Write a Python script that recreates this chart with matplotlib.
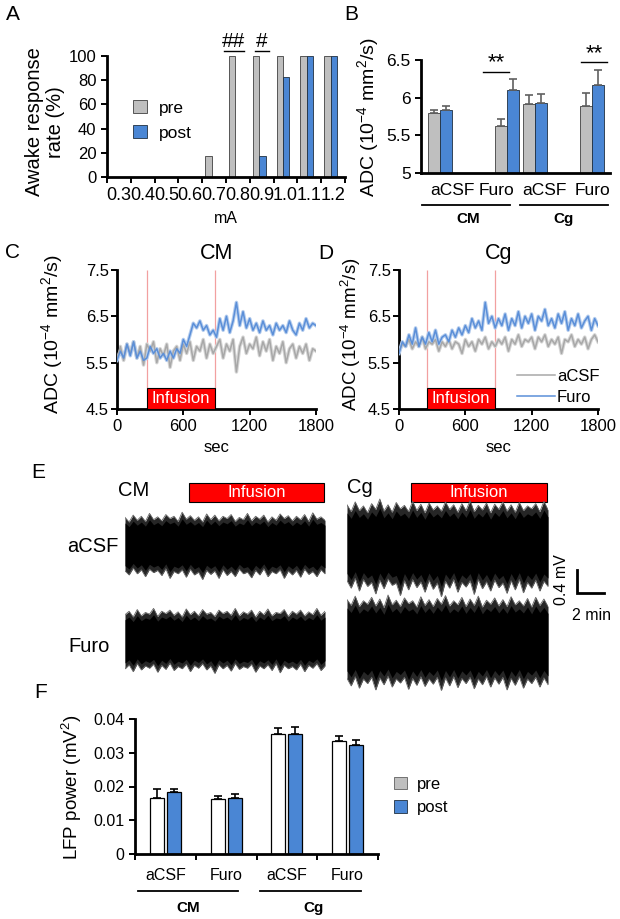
import numpy as np
import matplotlib
matplotlib.use("Agg")
import matplotlib.pyplot as plt
from matplotlib.patches import Rectangle
from matplotlib.lines import Line2D

plt.rcParams['font.family'] = ['Liberation Sans', 'DejaVu Sans']
plt.rcParams['mathtext.fontset'] = 'custom'
plt.rcParams['mathtext.rm'] = 'Liberation Sans'
plt.rcParams['mathtext.it'] = 'Liberation Sans:italic'
plt.rcParams['mathtext.bf'] = 'Liberation Sans:bold'

# ---------------- data ----------------
# Panel A
a_currents = ['0.3', '0.4', '0.5', '0.6', '0.7', '0.8', '0.9', '1.0', '1.1', '1.2']
a_pre = [0, 0, 0, 0, 17, 100, 100, 100, 100, 100]
a_post = [0, 0, 0, 0, 0, 0, 17, 83, 100, 100]

# Panel B
b_groups = ['aCSF', 'Furo', 'aCSF', 'Furo']
b_regions = ['CM', 'Cg']
b_pre = [5.79, 5.62, 5.92, 5.89]
b_pre_err = [0.05, 0.10, 0.11, 0.17]
b_post = [5.84, 6.10, 5.93, 6.17]
b_post_err = [0.05, 0.15, 0.12, 0.20]

# Panels C / D (ADC time courses, every 30 s)
t_sec = list(range(0, 1801, 30))
c_acsf = [5.60, 5.85, 5.55, 5.90, 5.70, 5.95, 5.60, 5.85, 5.45, 5.90, 5.75, 5.95, 5.50, 5.80, 5.65, 5.90, 5.40, 5.75, 5.85, 5.55, 5.90,
          5.70, 5.95, 5.55, 5.85, 5.75, 6.00, 5.60, 5.90, 5.70, 5.85,
          6.00, 5.60, 5.90, 5.75, 6.00, 5.30, 5.85, 6.05, 5.70, 5.90,
          5.80, 6.05, 5.65, 5.95, 5.75, 6.00, 5.55, 5.85, 5.70, 5.95,
          5.50, 5.80, 5.90, 5.60, 5.85, 5.70, 5.90, 5.55, 5.80, 5.75]
c_furo = [5.55, 5.75, 5.60, 5.90, 5.65, 5.95, 5.60, 5.75, 5.55, 5.60, 5.85, 5.70, 5.80, 5.60, 5.70, 5.55, 5.75, 5.60, 5.80, 5.70, 6.00,
          5.85, 6.10, 6.35, 6.25, 6.40, 6.20, 6.30, 6.10, 6.20, 6.05,
          6.45, 6.20, 6.50, 6.15, 6.40, 6.80, 6.30, 6.60, 6.25, 6.45,
          6.20, 6.35, 6.15, 6.40, 6.20, 6.30, 6.10, 6.35, 6.20, 6.30,
          6.15, 6.40, 6.20, 6.10, 6.35, 6.20, 6.45, 6.25, 6.35, 6.30]
d_acsf = [5.75, 5.90, 5.85, 6.00, 5.80, 5.95, 5.85, 6.05, 5.80, 5.95, 5.90, 6.00, 5.75, 5.95, 5.85, 6.00, 5.80, 5.95, 5.90, 5.70, 6.00,
          5.85, 5.95, 5.75, 6.00, 5.90, 6.05, 5.80, 5.95, 5.85, 6.00,
          5.90, 6.05, 5.75, 6.00, 5.90, 6.10, 5.85, 6.00, 5.95, 6.05,
          5.80, 6.05, 5.95, 6.10, 5.85, 6.00, 5.90, 6.05, 5.70, 6.00,
          5.95, 6.10, 5.85, 6.00, 5.90, 6.05, 5.80, 6.00, 6.10, 5.95]
d_furo = [5.70, 5.95, 5.85, 6.10, 5.90, 6.25, 5.85, 6.05, 5.90, 6.15, 5.95, 6.20, 5.90, 6.05, 6.10, 5.95, 6.20, 6.05, 6.25, 6.10, 6.30,
          6.15, 6.45, 6.25, 6.40, 6.20, 6.80, 6.35, 6.50, 6.25, 6.45,
          6.30, 6.55, 6.20, 6.45, 6.30, 6.60, 6.25, 6.50, 6.35, 6.55,
          6.20, 6.50, 6.40, 6.65, 6.30, 6.45, 6.25, 6.55, 6.35, 6.60,
          6.20, 6.45, 6.30, 6.55, 6.25, 6.40, 6.50, 6.20, 6.45, 6.30]
c_infusion = (275, 885)
d_infusion = (255, 870)

# Panel E (LFP trace envelopes, mV, 50 samples over 15 min)
e_cm_acsf_up = [0.48, 0.40, 0.52, 0.43, 0.50, 0.41, 0.55, 0.44, 0.49, 0.42, 0.53, 0.46, 0.50, 0.41, 0.57, 0.45, 0.51, 0.43, 0.49, 0.40,
                0.54, 0.44, 0.52, 0.42, 0.50, 0.46, 0.53, 0.41, 0.48, 0.44, 0.55, 0.42, 0.50, 0.45, 0.52, 0.40, 0.49, 0.43, 0.54, 0.46,
                0.51, 0.42, 0.50, 0.44, 0.53, 0.41, 0.56, 0.45, 0.49, 0.43]
e_cm_acsf_lo = [-0.45, -0.52, -0.40, -0.50, -0.43, -0.55, -0.42, -0.48, -0.44, -0.53, -0.41, -0.58, -0.46, -0.50, -0.43, -0.56, -0.42, -0.52, -0.47, -0.60,
                -0.44, -0.51, -0.45, -0.58, -0.43, -0.53, -0.46, -0.55, -0.42, -0.50, -0.47, -0.57, -0.44, -0.52, -0.41, -0.55, -0.46, -0.50, -0.43, -0.58,
                -0.45, -0.52, -0.44, -0.56, -0.42, -0.51, -0.46, -0.55, -0.43, -0.50]
e_cm_furo_up = [0.44, 0.50, 0.40, 0.53, 0.42, 0.48, 0.45, 0.55, 0.41, 0.50, 0.46, 0.52, 0.43, 0.49, 0.40, 0.54, 0.44, 0.50, 0.42, 0.53,
                0.45, 0.48, 0.41, 0.52, 0.46, 0.50, 0.43, 0.55, 0.42, 0.49, 0.45, 0.52, 0.40, 0.50, 0.44, 0.54, 0.42, 0.48, 0.46, 0.53,
                0.41, 0.50, 0.45, 0.52, 0.42, 0.49, 0.44, 0.55, 0.43, 0.50]
e_cm_furo_lo = [-0.50, -0.43, -0.55, -0.41, -0.52, -0.45, -0.49, -0.42, -0.56, -0.44, -0.51, -0.40, -0.53, -0.46, -0.50, -0.42, -0.55, -0.44, -0.49, -0.41,
                -0.52, -0.45, -0.58, -0.43, -0.50, -0.44, -0.54, -0.41, -0.51, -0.46, -0.49, -0.42, -0.56, -0.45, -0.50, -0.43, -0.53, -0.41, -0.57, -0.44,
                -0.50, -0.46, -0.52, -0.42, -0.55, -0.44, -0.49, -0.41, -0.53, -0.45]
e_cg_acsf_up = [0.70, 0.58, 0.75, 0.60, 0.68, 0.56, 0.72, 0.62, 0.80, 0.59, 0.70, 0.57, 0.74, 0.63, 0.69, 0.58, 0.76, 0.60, 0.71, 0.56,
                0.73, 0.61, 0.68, 0.59, 0.75, 0.62, 0.70, 0.57, 0.72, 0.60, 0.77, 0.58, 0.69, 0.61, 0.73, 0.56, 0.71, 0.62, 0.75, 0.59,
                0.70, 0.57, 0.74, 0.60, 0.68, 0.63, 0.72, 0.58, 0.76, 0.61]
e_cg_acsf_lo = [-0.62, -0.75, -0.58, -0.80, -0.60, -0.72, -0.65, -0.85, -0.61, -0.76, -0.59, -0.70, -0.66, -0.88, -0.62, -0.78, -0.60, -0.74, -0.64, -0.82,
                -0.61, -0.77, -0.66, -0.90, -0.63, -0.75, -0.60, -0.82, -0.65, -0.73, -0.62, -0.86, -0.60, -0.76, -0.64, -0.80, -0.61, -0.74, -0.66, -0.84,
                -0.62, -0.78, -0.60, -0.83, -0.65, -0.75, -0.61, -0.80, -0.63, -0.72]
e_cg_furo_up = [0.72, 0.62, 0.78, 0.60, 0.70, 0.64, 0.76, 0.61, 0.73, 0.58, 0.80, 0.63, 0.71, 0.60, 0.75, 0.65, 0.70, 0.59, 0.77, 0.62,
                0.72, 0.60, 0.74, 0.64, 0.79, 0.61, 0.70, 0.63, 0.76, 0.60, 0.73, 0.62, 0.78, 0.59, 0.71, 0.64, 0.75, 0.61, 0.72, 0.60,
                0.77, 0.63, 0.70, 0.61, 0.74, 0.59, 0.76, 0.62, 0.73, 0.60]
e_cg_furo_lo = [-0.65, -0.78, -0.62, -0.82, -0.66, -0.74, -0.63, -0.85, -0.64, -0.76, -0.61, -0.80, -0.66, -0.73, -0.63, -0.84, -0.65, -0.77, -0.62, -0.79,
                -0.66, -0.75, -0.63, -0.86, -0.64, -0.78, -0.62, -0.81, -0.65, -0.74, -0.63, -0.83, -0.66, -0.76, -0.62, -0.80, -0.64, -0.75, -0.63, -0.85,
                -0.65, -0.77, -0.62, -0.82, -0.66, -0.74, -0.63, -0.80, -0.64, -0.76]
e_infusion_min = (4.8, 14.9)

# Panel F
f_groups = ['aCSF', 'Furo', 'aCSF', 'Furo']
f_pre = [0.0165, 0.0164, 0.0356, 0.0334]
f_pre_err = [0.0027, 0.0008, 0.0017, 0.0015]
f_post = [0.0184, 0.0167, 0.0356, 0.0322]
f_post_err = [0.0010, 0.0010, 0.0020, 0.0016]

# ---------------- style ----------------
GRAY = '#bfbfbf'
BLUE = '#4a86d4'
LINE_BLUE = '#5b8fd8'
LIGHT_BLUE = '#b5cdee'
LINE_GRAY = '#a8a8a8'
LIGHT_GRAY = '#d6d6d6'
RED = '#ff0000'
PINK = '#f2a0a0'

W, H = 620, 919
fig = plt.figure(figsize=(W / 100, H / 100), dpi=100)


def add_ax(l, t, r, b):
    return fig.add_axes([l / W, 1 - b / H, (r - l) / W, (b - t) / H])


def ftext(x, y, s, **kw):
    return fig.text(x / W, 1 - y / H, s, **kw)


def fline(x0, x1, y, lw=1.3):
    fig.add_artist(Line2D([x0 / W, x1 / W], [1 - y / H, 1 - y / H], color='black', lw=lw,
                          transform=fig.transFigure))


def style_axis(ax, lw=2.0):
    for s in ['top', 'right']:
        ax.spines[s].set_visible(False)
    for s in ['left', 'bottom']:
        ax.spines[s].set_linewidth(lw)
    ax.tick_params(width=lw * 0.7, length=4, direction='out')


# panel letters
for lab, x, y in [('A', 13, 15), ('B', 351, 15), ('C', 12, 252), ('D', 326, 253), ('E', 38, 472), ('F', 41, 692)]:
    ftext(x, y, lab, fontsize=15, ha='center', va='center')

# ---------------- Panel A ----------------
axA = add_ax(107, 56, 345, 177)
style_axis(axA)
xa = np.arange(len(a_currents))
axA.bar(xa - 0.24, a_pre, width=0.27, color=GRAY, edgecolor='#404040', lw=0.6, label='pre')
axA.bar(xa + 0.03, a_post, width=0.27, color=BLUE, edgecolor='#203040', lw=0.6, label='post')
axA.set_xlim(-0.5, len(a_currents) - 0.5)
axA.set_ylim(0, 100)
axA.set_yticks([0, 20, 40, 60, 80, 100])
axA.set_xticks(np.arange(len(a_currents) + 1) - 0.5)
axA.set_xticklabels([])
axA.set_xticks(xa, minor=True)
axA.set_xticklabels(a_currents, minor=True)
axA.tick_params(axis='x', which='minor', length=0, pad=7, labelsize=13)
axA.tick_params(axis='y', labelsize=12)
axA.set_xlabel('mA', fontsize=11.5, labelpad=5)
for xc, s, hw in [(5 - 0.17, '##', 0.42), (6.0, '#', 0.3)]:
    axA.text(xc, 112, s, ha='center', va='center', fontsize=15, clip_on=False)
    axA.plot([xc - hw, xc + hw], [104, 104], color='black', lw=1.0, clip_on=False)
ftext(45, 122, 'Awake response\nrate (%)', rotation=90, ha='center', va='center', fontsize=14.5,
      multialignment='center', linespacing=1.1)
fig.legend(handles=axA.get_legend_handles_labels()[0], labels=['pre', 'post'],
           loc='upper left', bbox_to_anchor=(126 / W, 1 - 93 / H), frameon=False, fontsize=12.5,
           handlelength=0.8, handleheight=0.8, handletextpad=0.7, labelspacing=0.55, borderaxespad=0)

# ---------------- Panel B ----------------
axB = add_ax(421, 60, 610, 173)
style_axis(axB)
b_pos = np.array([0.40, 1.82, 2.41, 3.62])
b_lab_pos = [0.66, 1.60, 2.62, 3.62]
bw = 0.254
axB.bar(b_pos - bw / 2, b_pre, width=bw, color=GRAY, edgecolor='#404040', lw=0.6)
axB.bar(b_pos + bw / 2, b_post, width=bw, color=BLUE, edgecolor='#203040', lw=0.6)
axB.errorbar(b_pos - bw / 2, b_pre, yerr=[np.zeros(4), b_pre_err], fmt='none', ecolor='#606060', capsize=3, lw=1.2, capthick=1.2)
axB.errorbar(b_pos + bw / 2, b_post, yerr=[np.zeros(4), b_post_err], fmt='none', ecolor='#606060', capsize=3, lw=1.2, capthick=1.2)
axB.set_xlim(0, 4)
axB.set_ylim(5, 6.5)
axB.set_yticks([5, 5.5, 6, 6.5])
axB.set_yticklabels(['5', '5.5', '6', '6.5'])
axB.tick_params(axis='y', labelsize=12.5)
axB.set_xticks(b_lab_pos)
axB.set_xticklabels(b_groups, fontsize=12.5)
axB.tick_params(axis='x', length=0, pad=7)
for xc, yt, yl in [(1.59, 6.46, 6.34), (3.66, 6.59, 6.47)]:
    axB.text(xc, yt, '**', ha='center', va='center', fontsize=16, clip_on=False)
    axB.plot([xc - 0.28, xc + 0.28], [yl, yl], color='black', lw=1.0, clip_on=False)
ftext(368, 117, 'ADC (10$^{-4}$ mm$^{2}$/s)', rotation=90, ha='center', va='center', fontsize=14)
fline(422, 510, 205)
fline(520, 608, 205)
ftext(468, 219, b_regions[0], ha='center', va='center', fontsize=11, fontweight='bold')
ftext(564, 219, b_regions[1], ha='center', va='center', fontsize=11, fontweight='bold')


# ---------------- Panels C / D ----------------
def adc_panel(ax, acsf, furo, inf, title, legend=False):
    style_axis(ax)
    ax.plot(t_sec, acsf, color=LIGHT_GRAY, lw=2.6, zorder=2)
    ax.plot(t_sec, furo, color=LIGHT_BLUE, lw=2.6, zorder=3)
    la, = ax.plot(t_sec, acsf, color=LINE_GRAY, lw=1.1, zorder=4, label='aCSF')
    lf, = ax.plot(t_sec, furo, color=LINE_BLUE, lw=1.1, zorder=5, label='Furo')
    ax.set_xlim(0, 1800)
    ax.set_ylim(4.5, 7.5)
    ax.set_xticks([0, 600, 1200, 1800])
    ax.set_yticks([4.5, 5.5, 6.5, 7.5])
    ax.tick_params(labelsize=12)
    ax.tick_params(axis='y', pad=2)
    ax.set_xlabel('sec', fontsize=12, labelpad=4)
    ax.vlines(list(inf), 4.95, 7.5, color=PINK, lw=0.9, zorder=1)
    ax.add_patch(Rectangle((inf[0], 4.5), inf[1] - inf[0], 0.45, facecolor=RED, edgecolor='black', lw=0.8, zorder=6))
    ax.text((inf[0] + inf[1]) / 2, 4.73, 'Infusion', color='white', ha='center', va='center', fontsize=12, zorder=7)
    ax.set_title(title, fontsize=15.5, pad=8)
    if legend:
        ax.legend(handles=[la, lf], loc='lower right', bbox_to_anchor=(1.04, -0.02), frameon=False,
                  fontsize=12, handlelength=2.3, handletextpad=0.1, labelspacing=0.35, borderaxespad=0)


axC = add_ax(117, 270, 316, 409)
adc_panel(axC, c_acsf, c_furo, c_infusion, 'CM')
ftext(52, 334, 'ADC (10$^{-4}$ mm$^{2}$/s)', rotation=90, ha='center', va='center', fontsize=14)
axD = add_ax(399, 270, 598, 409)
adc_panel(axD, d_acsf, d_furo, d_infusion, 'Cg', legend=True)
ftext(351, 334, 'ADC (10$^{-4}$ mm$^{2}$/s)', rotation=90, ha='center', va='center', fontsize=13.5)

# ---------------- Panel E ----------------
e_t = np.linspace(0, 15, len(e_cm_acsf_up))
MV_PX = 57.5  # pixels per mV
HALF = 0.9


def trace_ax(x0, x1, yc, up, lo, infusion=False):
    ax = add_ax(x0, yc - HALF * MV_PX, x1, yc + HALF * MV_PX)
    ax.set_xlim(0, 15)
    ax.set_ylim(-HALF, HALF)
    ax.axis('off')
    up = np.array(up)
    lo = np.array(lo)
    ax.fill_between(e_t, lo, up, color='#262626', lw=0)
    ax.fill_between(e_t, lo * 0.8, up * 0.8, color='black', lw=0)
    ax.plot(e_t, up, color='#666666', lw=0.6)
    ax.plot(e_t, lo, color='#666666', lw=0.6)
    if infusion:
        top = (yc - 483) / MV_PX
        bot = (yc - 502) / MV_PX
        ax.add_patch(Rectangle((e_infusion_min[0], bot), e_infusion_min[1] - e_infusion_min[0], top - bot,
                               facecolor=RED, edgecolor='black', lw=0.8, clip_on=False))
        ax.text(sum(e_infusion_min) / 2, (top + bot) / 2, 'Infusion', color='white', ha='center', va='center',
                fontsize=12, clip_on=False)
    return ax


trace_ax(125, 325, 545, e_cm_acsf_up, e_cm_acsf_lo, infusion=True)
trace_ax(125, 325, 640, e_cm_furo_up, e_cm_furo_lo)
trace_ax(347, 548, 545, e_cg_acsf_up, e_cg_acsf_lo, infusion=True)
trace_ax(347, 548, 641, e_cg_furo_up, e_cg_furo_lo)
ftext(118, 490, 'CM', ha='left', va='center', fontsize=14.5)
ftext(347, 488, 'Cg', ha='left', va='center', fontsize=14.5)
ftext(67, 546, 'aCSF', ha='left', va='center', fontsize=14.5)
ftext(68, 647, 'Furo', ha='left', va='center', fontsize=14.5)
# scale bar
axS = add_ax(577, 570, 577 + 2 * 200 / 15, 570 + 0.4 * MV_PX)
axS.set_xlim(0, 2)
axS.set_ylim(0, 0.4)
axS.axis('off')
axS.plot([0, 0, 2], [0.4, 0, 0], color='black', lw=2, clip_on=False, solid_joinstyle='miter')
ftext(562, 580, '0.4 mV', rotation=90, ha='center', va='center', fontsize=11.5)
ftext(592, 615, '2 min', ha='center', va='center', fontsize=11.5)

# ---------------- Panel F ----------------
axF = add_ax(135, 719, 378, 854)
style_axis(axF)
xf = np.arange(4)
fw = 0.23
axF.bar(xf - 0.14, f_pre, width=fw, color='white', edgecolor='black', lw=0.9, label='pre')
axF.bar(xf + 0.14, f_post, width=fw, color=BLUE, edgecolor='black', lw=0.9, label='post')
axF.errorbar(xf - 0.14, f_pre, yerr=[np.zeros(4), f_pre_err], fmt='none', ecolor='black', capsize=3, lw=1.2, capthick=1.2)
axF.errorbar(xf + 0.14, f_post, yerr=[np.zeros(4), f_post_err], fmt='none', ecolor='black', capsize=3, lw=1.2, capthick=1.2)
axF.set_xlim(-0.5, 3.5)
axF.set_ylim(0, 0.04)
axF.set_yticks([0, 0.01, 0.02, 0.03, 0.04])
axF.set_yticklabels(['0', '0.01', '0.02', '0.03', '0.04'])
axF.set_xticks(np.arange(5) - 0.5)
axF.set_xticklabels([])
axF.set_xticks(xf, minor=True)
axF.set_xticklabels(f_groups, minor=True)
axF.tick_params(axis='x', which='minor', length=0, pad=10)
axF.tick_params(axis='both', which='both', labelsize=11.5)
ftext(72, 787, 'LFP power (mV$^{2}$)', rotation=90, ha='center', va='center', fontsize=13.5)
fline(138, 238, 891)
fline(260, 361, 891)
ftext(188, 908, b_regions[0], ha='center', va='center', fontsize=11, fontweight='bold')
ftext(313, 908, b_regions[1], ha='center', va='center', fontsize=11, fontweight='bold')
hpre = Rectangle((0, 0), 1, 1, facecolor=GRAY, edgecolor='#606060', lw=0.6)
hpost = Rectangle((0, 0), 1, 1, facecolor=BLUE, edgecolor='#203040', lw=0.6)
fig.legend(handles=[hpre, hpost], labels=['pre', 'post'], loc='upper left',
           bbox_to_anchor=(387 / W, 1 - 770 / H), frameon=False, fontsize=12,
           handlelength=0.8, handleheight=0.8, handletextpad=0.6, labelspacing=0.5, borderaxespad=0)

fig.savefig('out.png', dpi=100)
